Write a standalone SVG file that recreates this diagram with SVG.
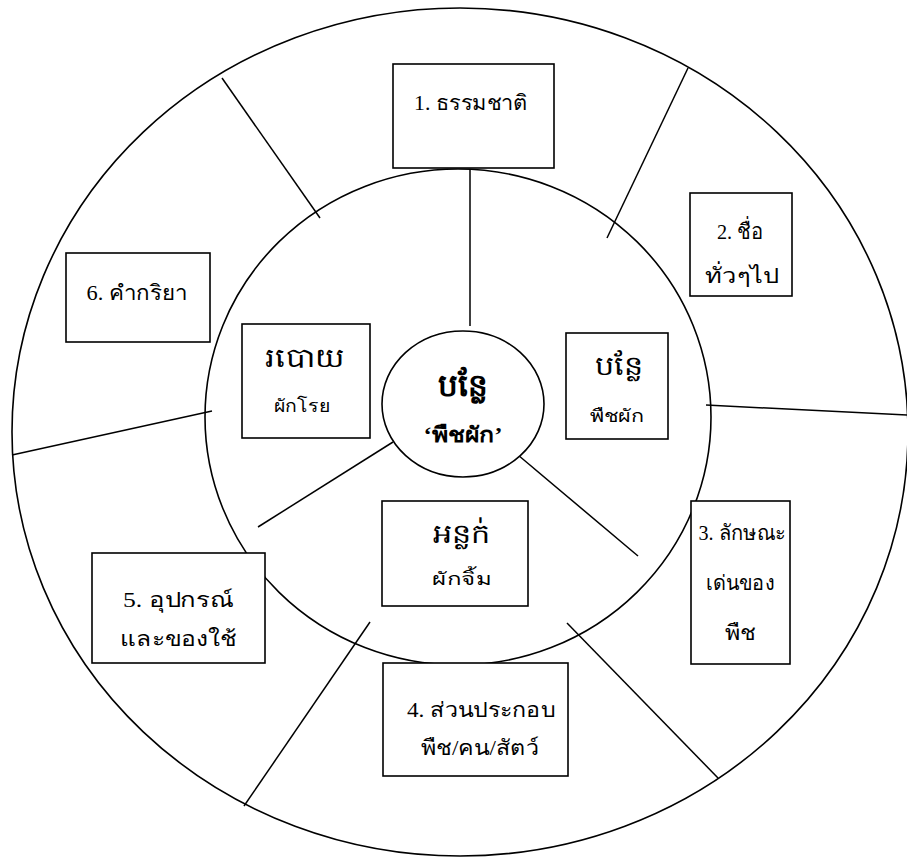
<svg xmlns="http://www.w3.org/2000/svg" width="907" height="858" viewBox="0 0 907 858">
<style>
.sh{fill:#fff;stroke:#000;stroke-width:1.6}
.ln{stroke:#000;stroke-width:1.5;fill:none}
text{font-family:"Liberation Serif","DejaVu Serif",serif;font-size:21px;font-weight:normal;fill:#000;text-anchor:middle}
.km{font-size:27px}
.sm{font-size:18px}
.b{font-weight:bold}
</style>
<rect width="907" height="858" fill="#fff"/>
<g id="outer"><ellipse class="sh" cx="460" cy="432" rx="448" ry="424"/></g>
<g id="inner"><ellipse class="sh" cx="458" cy="417" rx="253" ry="248"/></g>
<g id="connectors">
<line class="ln" x1="222" y1="78" x2="320" y2="218"/>
<line class="ln" x1="688" y1="68" x2="607" y2="238"/>
<line class="ln" x1="706" y1="405" x2="907" y2="415"/>
<line class="ln" x1="567" y1="623" x2="718" y2="778"/>
<line class="ln" x1="370" y1="622" x2="244" y2="806"/>
<line class="ln" x1="12" y1="455" x2="212" y2="411"/>
<line class="ln" x1="470" y1="170" x2="470" y2="326"/>
<line class="ln" x1="393" y1="442" x2="258" y2="527"/>
<line class="ln" x1="518" y1="455" x2="638" y2="556"/>
</g>
<g id="center"><ellipse class="sh" cx="463" cy="404" rx="81" ry="73"/>
<text class="km b" x="463" y="396" style="font-size:31px" textLength="50" lengthAdjust="spacingAndGlyphs">បន្លែ</text>
<text class="b" x="463" y="442" style="font-size:21px" textLength="79" lengthAdjust="spacingAndGlyphs">‘พืชผัก’</text></g>
<g id="n1"><rect class="sh" x="393" y="64" width="161" height="104"/><text x="471" y="110" textLength="114" lengthAdjust="spacingAndGlyphs">1. ธรรมชาติ</text></g>
<g id="n2"><rect class="sh" x="690" y="193" width="102" height="103"/><text x="740" y="239" style="font-size:22px" textLength="46" lengthAdjust="spacingAndGlyphs">2. ชื่อ</text><text x="742" y="283" textLength="74" lengthAdjust="spacingAndGlyphs">ทั่วๆไป</text></g>
<g id="n3"><rect class="sh" x="691" y="501" width="99" height="163"/><text x="742" y="540" textLength="87" lengthAdjust="spacingAndGlyphs">3. ลักษณะ</text><text x="740" y="590" textLength="68" lengthAdjust="spacingAndGlyphs">เด่นของ</text><text x="740" y="640" textLength="31" lengthAdjust="spacingAndGlyphs">พืช</text></g>
<g id="n4"><rect class="sh" x="383" y="663" width="185" height="113"/><text x="481" y="717" textLength="148" lengthAdjust="spacingAndGlyphs">4. ส่วนประกอบ</text><text x="480" y="755" textLength="118" lengthAdjust="spacingAndGlyphs">พืช/คน/สัตว์</text></g>
<g id="n5"><rect class="sh" x="92" y="553" width="173" height="110"/><text x="178" y="607" textLength="110" lengthAdjust="spacingAndGlyphs">5. อุปกรณ์</text><text x="178" y="646" textLength="116" lengthAdjust="spacingAndGlyphs">และของใช้</text></g>
<g id="n6"><rect class="sh" x="66" y="253" width="144" height="89"/><text x="137" y="300" textLength="101" lengthAdjust="spacingAndGlyphs">6. คำกริยา</text></g>
<g id="k1"><rect class="sh" x="242" y="324" width="128" height="114"/><text class="km" x="305" y="367" textLength="80" lengthAdjust="spacingAndGlyphs">របោយ</text><text class="sm" x="302" y="412" textLength="57" lengthAdjust="spacingAndGlyphs">ผักโรย</text></g>
<g id="k2"><rect class="sh" x="566" y="333" width="102" height="106"/><text class="km" x="619" y="375" textLength="48" lengthAdjust="spacingAndGlyphs">បន្លែ</text><text class="sm" x="617" y="422" textLength="55" lengthAdjust="spacingAndGlyphs">พืชผัก</text></g>
<g id="k3"><rect class="sh" x="382" y="501" width="146" height="105"/><text class="km" x="461" y="543" textLength="57" lengthAdjust="spacingAndGlyphs">អន្លក់</text><text class="sm" x="462" y="585" textLength="60" lengthAdjust="spacingAndGlyphs">ผักจิ้ม</text></g>
</svg>
